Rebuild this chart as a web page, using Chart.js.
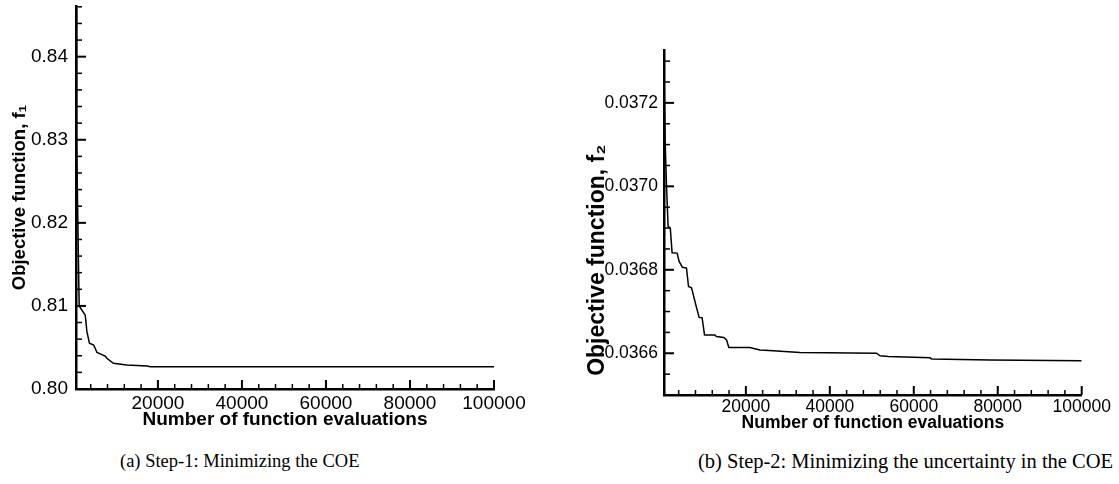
<!DOCTYPE html>
<html><head><meta charset="utf-8">
<script src="https://cdn.jsdelivr.net/npm/chart.js@4.4.1/dist/chart.umd.min.js"></script>
<style>
html,body{margin:0;padding:0;background:#fff;width:1119px;height:484px;overflow:hidden;position:relative}
#c1{position:absolute;left:0;top:0}
#c2{position:absolute;left:540px;top:0}
.cap{position:absolute;font-family:"Liberation Serif","DejaVu Serif",serif;font-size:18.5px;white-space:nowrap;color:#000;line-height:1}
</style></head><body>
<canvas id="c1" width="540" height="440"></canvas>
<canvas id="c2" width="579" height="440"></canvas>
<div class="cap" style="left:120px;top:452px">(a) Step-1: Minimizing the COE</div>
<div class="cap" style="left:698px;top:451px;font-size:20.5px">(b) Step-2: Minimizing the uncertainty in the COE</div>
<script>
// ---- data ----
const evalsStep1 = [500, 650, 860, 1100, 1260, 2300, 2700, 3100, 3700, 4700, 5500, 7450, 7850, 9400, 12600, 17400, 18200, 100000];
const coeStep1   = [0.8458, 0.8300, 0.8228, 0.8147, 0.8100, 0.8092, 0.8089, 0.8069, 0.8055, 0.8053, 0.8044, 0.80395, 0.8037, 0.8031, 0.8029, 0.80277, 0.80268, 0.80267];

const evalsStep2 = [500, 800, 1100, 1480, 2000, 2430, 3620, 4100, 4900, 5860, 6340, 7060, 8080, 8870, 9580, 10150, 12600, 13000, 14750, 15400, 15950, 20950, 23340, 26510, 32870, 51160, 51950, 53930, 63860, 64270, 78170, 100000];
const uncStep2   = [0.03728, 0.03710, 0.03700, 0.036904, 0.036900, 0.036841, 0.036840, 0.036820, 0.036806, 0.036804, 0.036760, 0.036757, 0.036716, 0.036686, 0.036685, 0.036644, 0.036644, 0.036640, 0.036638, 0.036632, 0.036614, 0.036614, 0.036608, 0.036606, 0.036602, 0.036600, 0.036594, 0.036592, 0.036589, 0.036586, 0.036584, 0.036582];

const xTicks  = [20000, 40000, 60000, 80000, 100000];
const yTicks1 = [0.80, 0.81, 0.82, 0.83, 0.84];
const yTicks2 = [0.0366, 0.0368, 0.0370, 0.0372];

const FONT = '"Liberation Sans", Arial, Helvetica, sans-serif';

// inward tick marks (major + minor) drawn through the chart scales
function makeTickPlugin(o) {
  return {
    id: 'innerTicks',
    afterDraw(chart) {
      const ctx = chart.ctx, a = chart.chartArea, x = chart.scales.x, y = chart.scales.y;
      ctx.save();
      ctx.strokeStyle = '#000';
      const isMajor = (list, v, eps) => list.some(t => Math.abs(t - v) < eps);
      for (let i = 1; i < 200; i++) {
        const v = o.xStep * i;
        if (v > x.max + 1e-6) break;
        const px = x.getPixelForValue(v);
        const maj = isMajor(o.xMajor, v, 1e-3);
        ctx.lineWidth = maj ? 2 : 1.5;
        ctx.beginPath();
        ctx.moveTo(px, a.bottom);
        ctx.lineTo(px, a.bottom - (maj ? 9 : 5));
        ctx.stroke();
      }
      for (let i = 0; i < 200; i++) {
        const v = o.yStart + o.yStep * i;
        if (v > y.max + o.yStep * 1e-3) break;
        const py = y.getPixelForValue(v);
        const maj = isMajor(o.yMajor, v, o.yStep * 1e-3);
        ctx.lineWidth = maj ? 2 : 1.5;
        ctx.beginPath();
        ctx.moveTo(a.left, py);
        ctx.lineTo(a.left + (maj ? 10 : 6), py);
        ctx.stroke();
      }
      ctx.restore();
    }
  };
}

function makeChart(id, xs, ys, cfg) {
  return new Chart(document.getElementById(id), {
    type: 'line',
    data: {
      datasets: [{
        data: xs.map((x, i) => ({x: x, y: ys[i]})),
        borderColor: '#000',
        borderWidth: 1.5,
        pointRadius: 0,
        fill: false,
        tension: 0
      }]
    },
    options: {
      responsive: false,
      animation: false,
      events: [],
      layout: {padding: cfg.padding},
      plugins: {
        legend: {display: false},
        tooltip: {enabled: false}
      },
      scales: {
        x: {
          type: 'linear',
          min: 500,
          max: 100000,
          afterBuildTicks: s => { s.ticks = xTicks.map(v => ({value: v})); },
          ticks: {autoSkip: false, maxRotation: 0, padding: cfg.xPad, color: '#000',
                  font: {family: FONT, size: cfg.tickSize}, callback: v => String(v)},
          grid: {display: false, drawTicks: false},
          border: {display: true, color: '#000', width: 2.5},
          title: {display: true, text: 'Number of function evaluations', color: '#000',
                  font: {family: FONT, size: cfg.xTitleSize, weight: 'bold'},
                  padding: {top: 0, bottom: cfg.xTitlePad}},
          afterFit: s => { s.height = cfg.xHeight; }
        },
        y: {
          type: 'linear',
          min: cfg.yMin,
          max: cfg.yMax,
          afterBuildTicks: s => { s.ticks = cfg.yTicks.map(v => ({value: v})); },
          ticks: {autoSkip: false, padding: cfg.yPad, color: '#000',
                  font: {family: FONT, size: cfg.tickSize}, callback: v => v.toFixed(cfg.dec)},
          grid: {display: false, drawTicks: false},
          border: {display: true, color: '#000', width: 2.5},
          title: {display: true, text: cfg.yTitle, color: '#000', align: cfg.yAlign,
                  font: {family: FONT, size: cfg.yTitleSize, weight: 'bold'},
                  padding: {top: cfg.yTitlePad, bottom: 0}},
          afterFit: s => { s.width = cfg.yWidth; s.paddingTop = 0; s.paddingBottom = 0; }
        }
      }
    },
    plugins: [makeTickPlugin(cfg.tickOpts)]
  });
}

makeChart('c1', evalsStep1, coeStep1, {
  padding: {top: 6, right: 46, bottom: 0, left: 0},
  tickOpts: {xStep: 4000, xMajor: xTicks, yStart: 0.80, yStep: 0.002, yMajor: yTicks1},
  xPad: 3, tickSize: 19, xTitleSize: 19, xTitlePad: 8.6, xHeight: 51,
  yMin: 0.80, yMax: 0.8461, yTicks: yTicks1, yPad: 8, dec: 2,
  yTitle: 'Objective function, f\u2081', yTitleSize: 18.5, yTitlePad: 9, yWidth: 76, yAlign: 'center'
});

makeChart('c2', evalsStep2, uncStep2, {
  padding: {top: 50.7, right: 37.3, bottom: 0, left: 0},
  tickOpts: {xStep: 4000, xMajor: xTicks, yStart: 0.0365, yStep: 0.00005, yMajor: yTicks2},
  xPad: 2, tickSize: 17.5, xTitleSize: 17.5, xTitlePad: 6.2, xHeight: 45,
  yMin: 0.0365, yMax: 0.037325, yTicks: yTicks2, yPad: 6, dec: 4,
  yTitle: '   Objective function, f\u2082', yTitleSize: 23, yTitlePad: 44, yWidth: 124, yAlign: 'start'
});
</script>
</body></html>
